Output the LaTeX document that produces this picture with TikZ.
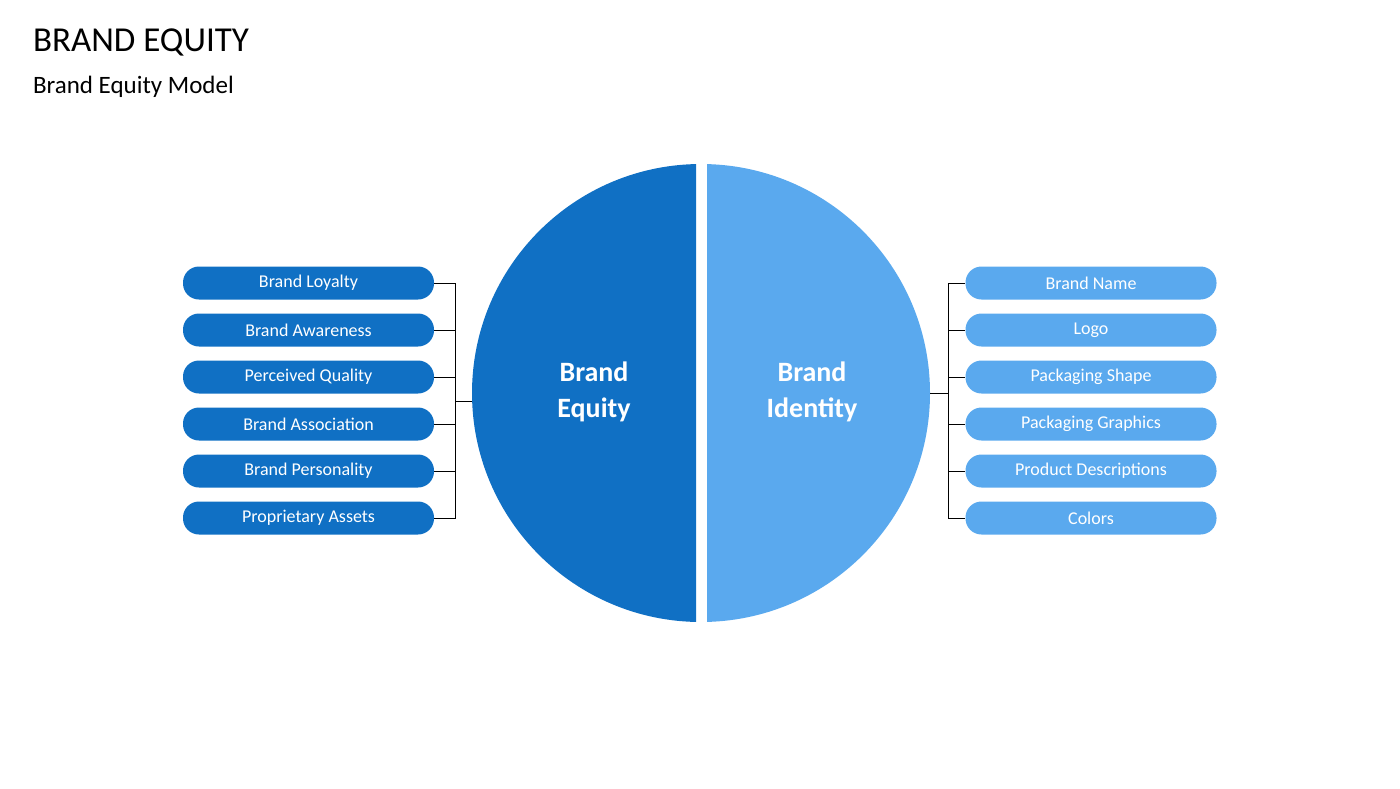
\documentclass[tikz,border=0pt]{standalone}
\usepackage{fontspec}
\setmainfont{Carlito}
\definecolor{eqblue}{RGB}{16,112,196}
\definecolor{idblue}{RGB}{90,169,238}
\usetikzlibrary{positioning}
\tikzset{
  pill/.style={rounded corners=8pt, minimum width=125.5pt, minimum height=16.5pt,
    text=white, font=\fontsize{9}{10}\selectfont, inner sep=0pt},
  eqpill/.style={pill, fill=eqblue},
  idpill/.style={pill, fill=idblue},
  link/.style={draw=black, line width=0.5pt}
}
\begin{document}
\begin{tikzpicture}[x=0.5pt,y=-0.5pt]
  \useasboundingbox (0,0) rectangle (1400,788);

  \node [anchor=west, font=\fontsize{17.5}{20}\selectfont] (title) at (26,42) {BRAND EQUITY};
  \node [anchor=west, font=\fontsize{12.5}{14}\selectfont] (subtitle) at (26,87) {Brand Equity Model};

  % circle halves
  \begin{scope}
    \clip (0,0) rectangle (696,788);
    \fill [eqblue] (701,393) circle [radius=229];
  \end{scope}
  \begin{scope}
    \clip (707,0) rectangle (1400,788);
    \fill [idblue] (701,393) circle [radius=229];
  \end{scope}
  \coordinate (eqin) at (472,401);
  \coordinate (idin) at (930,393);
  \node [text=white, font=\bfseries\fontsize{14}{18}\selectfont, align=center] (eq) at (594,392) {Brand\\Equity};
  \node [text=white, font=\bfseries\fontsize{14}{18}\selectfont, align=center] (id) at (812,392) {Brand\\Identity};

  % left list
  \foreach \t [count=\i] in {Brand Loyalty, Brand Awareness, Perceived Quality,
      Brand Association, Brand Personality, Proprietary Assets}
    \node [eqpill] (l\i) at (308.5,236+47*\i) {\t};
  % right list
  \foreach \t [count=\i] in {Brand Name, Logo, Packaging Shape,
      Packaging Graphics, Product Descriptions, Colors}
    \node [idpill] (r\i) at (1091,236+47*\i) {\t};

  % connectors
  \coordinate (lbus) at (455,401);
  \coordinate (rbus) at (948,393);
  \foreach \i in {1,...,6} {
    \draw [link] (l\i.east) -| (lbus);
    \draw [link] (r\i.west) -| (rbus);
  }
  \draw [link] (lbus) -- (eqin);
  \draw [link] (rbus) -- (idin);
\end{tikzpicture}
\end{document}
